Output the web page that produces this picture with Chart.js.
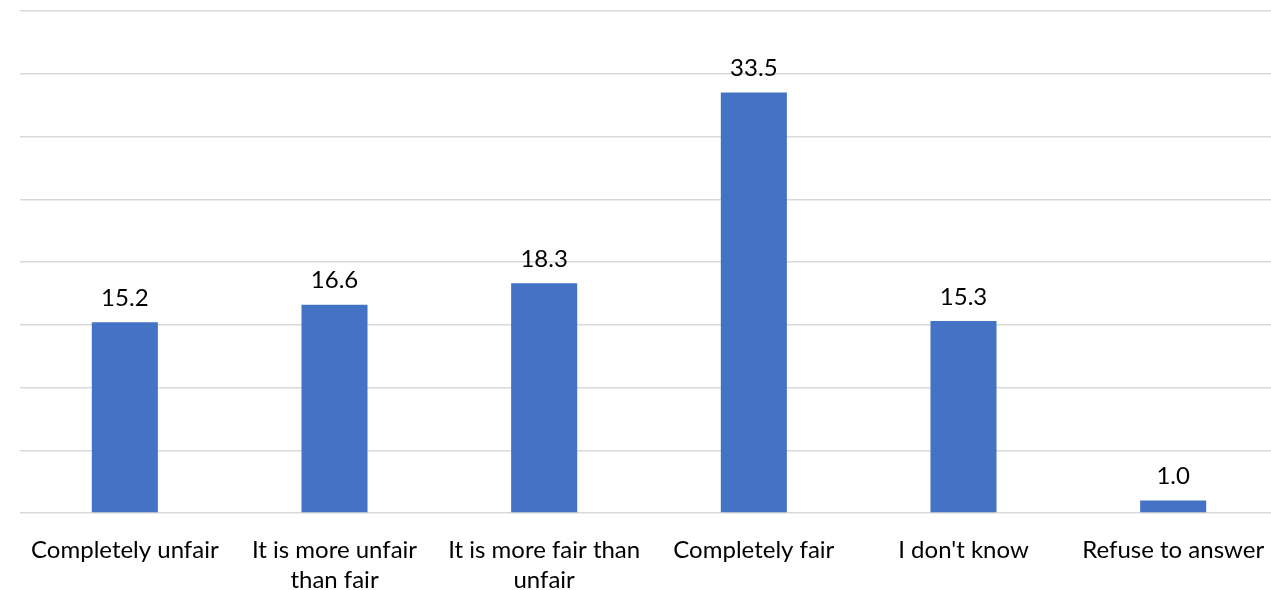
<!DOCTYPE html>
<html>
<head>
<meta charset="utf-8">
<script src="https://cdn.jsdelivr.net/npm/chart.js@4"></script>
<style>
  html, body { margin: 0; padding: 0; background: #fff; overflow: hidden; }
  #wrap { width: 1278px; height: 590px; }
</style>
</head>
<body>
<div id="wrap"><canvas id="chart"></canvas></div>
<script>
const categories = [
  "Completely unfair",
  ["It is more unfair", "than fair"],
  ["It is more fair than", "unfair"],
  "Completely fair",
  "I don't know",
  "Refuse to answer"
];
const values = [15.2, 16.6, 18.3, 33.5, 15.3, 1.0];
const yMax = 40;
const yStep = 5;

const valueLabels = {
  id: "valueLabels",
  afterDatasetsDraw(chart) {
    const ctx = chart.ctx;
    const meta = chart.getDatasetMeta(0);
    ctx.save();
    ctx.font = "24px Lato";
    ctx.fillStyle = "#000";
    ctx.textAlign = "center";
    ctx.textBaseline = "bottom";
    meta.data.forEach((bar, i) => {
      ctx.fillText(values[i].toFixed(1), bar.x, bar.y - 12);
    });
    ctx.restore();
  }
};

new Chart(document.getElementById("chart"), {
  type: "bar",
  data: {
    labels: categories,
    datasets: [{
      data: values,
      backgroundColor: "#4472C4",
      barPercentage: 1,
      categoryPercentage: 0.315
    }]
  },
  options: {
    responsive: true,
    maintainAspectRatio: false,
    animation: false,
    layout: { padding: { left: 20, top: 11, right: 0, bottom: 0 } },
    plugins: {
      legend: { display: false },
      tooltip: { enabled: false }
    },
    scales: {
      x: {
        grid: { display: false, drawTicks: false },
        border: { display: false },
        ticks: {
          color: "#000",
          font: { family: "Lato", size: 24, lineHeight: 1.25 },
          padding: 22,
          maxRotation: 0,
          autoSkip: false
        },
        afterFit: scale => {
          scale.height = 77;
          scale.paddingLeft = 0;
          scale.paddingRight = 0;
        }
      },
      y: {
        min: 0,
        max: yMax,
        ticks: { display: false, stepSize: yStep },
        grid: { color: "#d9d9d9", lineWidth: 1.5, drawTicks: false },
        border: { display: false }
      }
    }
  },
  plugins: [valueLabels]
});
</script>
</body>
</html>
